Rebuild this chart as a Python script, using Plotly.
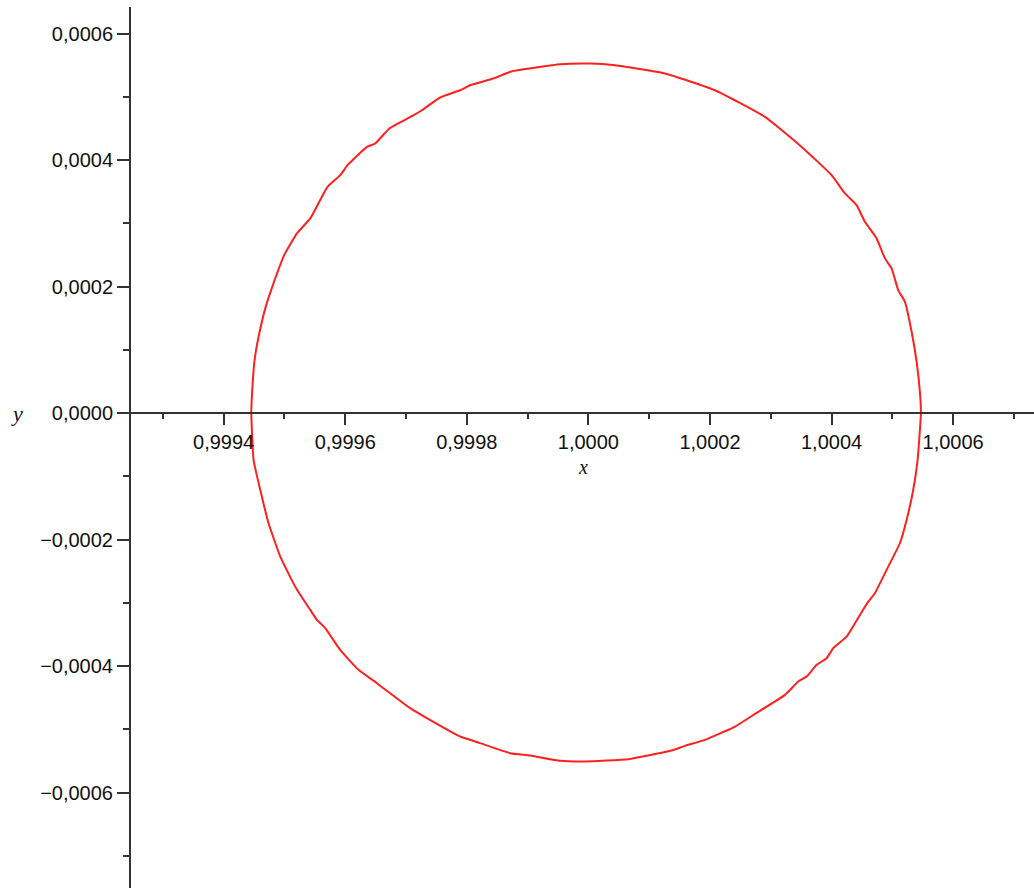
import plotly.graph_objects as go

# Closed curve (counter-clockwise from the right crossing)
x_vals = [
    1.0005470, 1.0005453, 1.0005399, 1.0005317, 1.0005207, 1.0005096, 1.0004988, 1.0004878,
    1.0004741, 1.0004549, 1.0004412, 1.0004220, 1.0004001, 1.0003508, 1.0002905, 1.0002083,
    1.0001261, 1.0000439, 1.0000028,
    0.9999535, 0.9999096, 0.9998741, 0.9998438, 0.9998055, 0.9997891, 0.9997562, 0.9997261,
    0.9997097, 0.9996728, 0.9996493, 0.9996357, 0.9996038, 0.9995918, 0.9995709, 0.9995425,
    0.9995206, 0.9995002, 0.9994849, 0.9994685, 0.9994575, 0.9994509, 0.9994466, 0.9994455,
    0.9994493, 0.9994603, 0.9994739, 0.9994932, 0.9995178, 0.9995425, 0.9995535, 0.9995671,
    0.9995918, 0.9996219, 0.9996521, 0.9997069, 0.9997343, 0.9997891, 0.9998220, 0.9998713,
    0.9999042, 0.9999535, 0.9999946,
    1.0000658, 1.0001371, 1.0001590, 1.0001919, 1.0002412, 1.0002741, 1.0003234, 1.0003452,
    1.0003590, 1.0003755, 1.0003919, 1.0004028, 1.0004248, 1.0004467, 1.0004603, 1.0004713,
    1.0004932, 1.0005124, 1.0005234, 1.0005343, 1.0005415, 1.0005453, 1.0005470,
]
y_vals = [
    0.0, 3.37e-05, 8.11e-05, 1.285e-04, 1.759e-04, 1.944e-04, 2.287e-04, 2.445e-04,
    2.761e-04, 3.023e-04, 3.287e-04, 3.472e-04, 3.761e-04, 4.208e-04, 4.682e-04, 5.104e-04,
    5.368e-04, 5.499e-04, 5.526e-04,
    5.515e-04, 5.457e-04, 5.404e-04, 5.289e-04, 5.183e-04, 5.104e-04, 4.989e-04, 4.788e-04,
    4.693e-04, 4.499e-04, 4.262e-04, 4.208e-04, 3.919e-04, 3.761e-04, 3.576e-04, 3.077e-04,
    2.840e-04, 2.508e-04, 2.129e-04, 1.655e-04, 1.206e-04, 8.38e-05, 2.84e-05, 0.0,
    -7.43e-05, -1.217e-04, -1.743e-04, -2.271e-04, -2.745e-04, -3.113e-04, -3.271e-04, -3.402e-04,
    -3.745e-04, -4.061e-04, -4.272e-04, -4.667e-04, -4.825e-04, -5.115e-04, -5.220e-04, -5.378e-04,
    -5.416e-04, -5.499e-04, -5.510e-04,
    -5.473e-04, -5.337e-04, -5.262e-04, -5.168e-04, -4.957e-04, -4.757e-04, -4.456e-04, -4.246e-04,
    -4.167e-04, -3.982e-04, -3.876e-04, -3.718e-04, -3.535e-04, -3.192e-04, -2.982e-04, -2.849e-04,
    -2.429e-04, -2.059e-04, -1.691e-04, -1.217e-04, -7.43e-05, -2.69e-05, 0.0,
]

x_range = [0.999246, 1.000733]
y_range = [-0.000751, 0.000642]
x_label = "x"
y_label = "y"

W, H = 1034, 888
ML, MR, MT, MB = 130, 0, 7, 0
axis_col = "#333333"
font_col = "#111111"
tick_font = dict(family="Liberation Sans, Arial, sans-serif", size=20, color=font_col)

fig = go.Figure()
fig.add_trace(go.Scatter(
    x=x_vals, y=y_vals, mode="lines",
    line=dict(color="#ff2020", width=2, shape="spline", smoothing=0.4),
    hoverinfo="skip", showlegend=False,
))

zero_frac = (0 - y_range[0]) / (y_range[1] - y_range[0])

fig.update_layout(
    width=W, height=H,
    margin=dict(l=ML, r=MR, t=MT, b=MB, pad=0),
    paper_bgcolor="white", plot_bgcolor="white",
    separators=", ",
    showlegend=False,
    xaxis=dict(
        range=x_range, anchor="free", position=zero_frac,
        showgrid=False, zeroline=False,
        showline=True, linecolor=axis_col, linewidth=2,
        ticks="outside", ticklen=11, tickwidth=2, tickcolor=axis_col,
        tick0=1.0, dtick=0.0002, tickformat=".4f",
        minor=dict(ticks="outside", ticklen=5, tickwidth=2, tickcolor=axis_col, dtick=0.0001, showgrid=False),
        tickfont=tick_font,
    ),
    yaxis=dict(
        range=y_range, anchor="free", position=0,
        showgrid=False, zeroline=False,
        showline=True, linecolor=axis_col, linewidth=2,
        ticks="outside", ticklen=12, tickwidth=2, tickcolor=axis_col,
        tick0=0, dtick=0.0002, tickformat=".4f",
        minor=dict(ticks="outside", ticklen=6, tickwidth=2, tickcolor=axis_col, dtick=0.0001, showgrid=False),
        tickfont=tick_font,
    ),
    annotations=[
        dict(text="<i>" + x_label + "</i>", xref="paper", yref="paper",
             x=(583 - ML) / (W - ML - MR), y=(H - 467) / (H - MT - MB),
             xanchor="center", yanchor="middle", showarrow=False,
             font=dict(family="Liberation Serif, Times New Roman, serif", size=20, color=font_col)),
        dict(text="<i>" + y_label + "</i>", xref="paper", yref="paper",
             x=(17 - ML) / (W - ML - MR), y=(H - 414) / (H - MT - MB),
             xanchor="center", yanchor="middle", showarrow=False,
             font=dict(family="Liberation Serif, Times New Roman, serif", size=22, color=font_col)),
    ],
)

fig.write_html("out.html", config={"displayModeBar": False},
               post_script="document.body.style.margin='0';document.body.style.overflow='hidden';")
